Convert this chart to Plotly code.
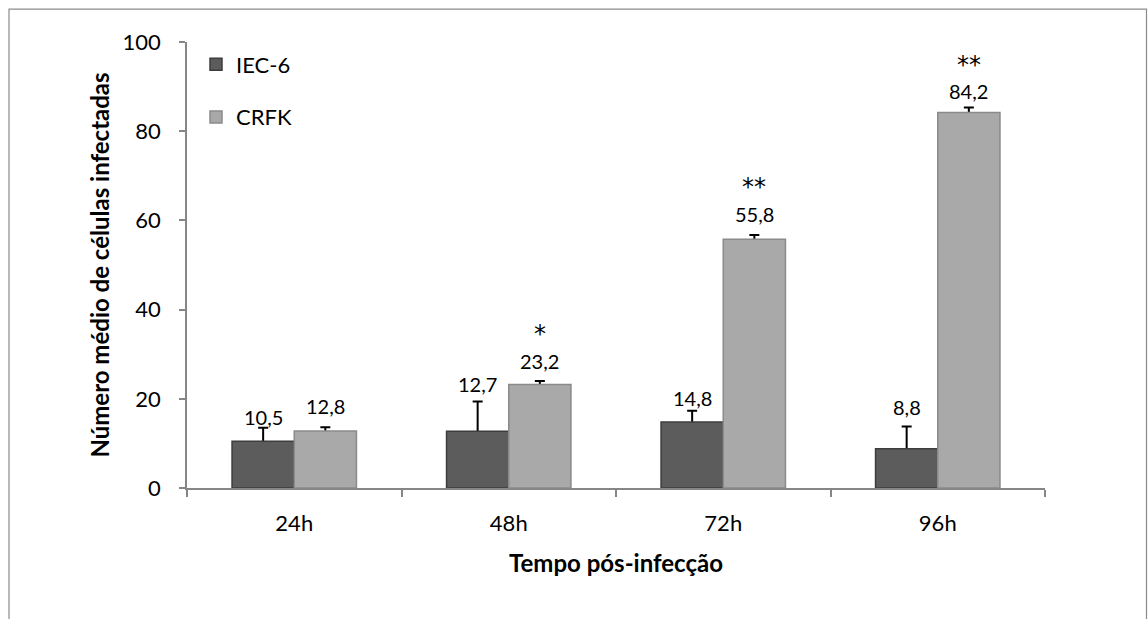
import plotly.graph_objects as go

categories = ["24h", "48h", "72h", "96h"]
iec6_values = [10.5, 12.7, 14.8, 8.8]
crfk_values = [12.8, 23.2, 55.8, 84.2]
iec6_errors = [3.0, 6.7, 2.5, 5.0]
crfk_errors = [0.8, 0.8, 0.9, 1.1]
iec6_labels = ["10,5", "12,7", "14,8", "8,8"]
crfk_labels = ["12,8", "23,2", "55,8", "84,2"]
significance = ["", "*", "**", "**"]

FONT = "Lato"
W, H = 1148, 619
ML, MR, MT, MB = 187, 103, 41.5, 130.5
PW, PH = W - ML - MR, H - MT - MB

fig = go.Figure()

def add_series(name, values, errors, color, line_color, group):
    # error bar drawn underneath the visible bar so only the upper whisker shows
    fig.add_trace(go.Bar(
        name=name, x=categories, y=values, offsetgroup=group,
        marker=dict(color="rgba(0,0,0,0)", line=dict(width=0)),
        error_y=dict(type="data", array=errors, arrayminus=[1.0] * len(errors),
                     symmetric=False, color="black", thickness=2, width=5),
        showlegend=False, hoverinfo="skip",
    ))
    fig.add_trace(go.Bar(
        name=name, x=categories, y=values, offsetgroup=group,
        marker=dict(color=color, line=dict(color=line_color, width=1.5)),
        legendgroup=group,
    ))

add_series("IEC-6", iec6_values, iec6_errors, "#5c5c5c", "#3d3d3d", "a")
add_series("CRFK", crfk_values, crfk_errors, "#a9a9a9", "#8a8a8a", "b")

# label offsets (px above bar top)
iec6_shift = [24, 47, 24, 42]
crfk_shift = [25, 24, 25, 21]
star_shift = [0, 51, 52, 47]
annotations = []
for i, c in enumerate(categories):
    annotations.append(dict(x=c, y=iec6_values[i], text=iec6_labels[i], showarrow=False,
                            xshift=-31, yshift=iec6_shift[i], yanchor="middle", borderpad=0,
                            font=dict(family=FONT, size=20, color="black")))
    annotations.append(dict(x=c, y=crfk_values[i], text=crfk_labels[i], showarrow=False,
                            xshift=31, yshift=crfk_shift[i], yanchor="middle", borderpad=0,
                            font=dict(family=FONT, size=20, color="black")))
    if significance[i]:
        annotations.append(dict(x=c, y=crfk_values[i], text=significance[i], showarrow=False,
                                xshift=31, yshift=star_shift[i], yanchor="middle", borderpad=0,
                                font=dict(family="DejaVu Sans", size=24, color="black")))

def px_x(p):
    return (p - ML) / PW
def px_y(p):
    return (H - MB - p) / PH

shapes = [dict(type="rect", xref="paper", yref="paper",
               x0=px_x(9), x1=px_x(1146.5), y0=px_y(700), y1=px_y(8.5),
               line=dict(color="#8c8c8c", width=1.2), fillcolor="rgba(0,0,0,0)", layer="below")]

fig.update_layout(
    width=W, height=H,
    margin=dict(l=ML, r=MR, t=MT, b=MB, autoexpand=False),
    paper_bgcolor="white", plot_bgcolor="white",
    barmode="group", bargap=0.42, bargroupgap=0,
    font=dict(family=FONT, size=22, color="black"),
    showlegend=True,
    legend=dict(x=px_x(196), y=px_y(43), xanchor="left", yanchor="top",
                traceorder="grouped", tracegroupgap=21,
                font=dict(family=FONT, size=22, color="black"),
                bgcolor="rgba(0,0,0,0)", itemwidth=30),
    annotations=annotations,
    shapes=shapes,
    xaxis=dict(type="category", showline=True, linecolor="#868686", linewidth=1.5,
               ticks="outside", tickson="boundaries", ticklen=7, tickcolor="#868686",
               tickwidth=1.5, showgrid=False, ticklabelstandoff=15,
               tickfont=dict(family=FONT, size=22),
               title=dict(text="<b>Tempo pós-infecção</b>", standoff=20,
                          font=dict(family=FONT, size=24))),
    yaxis=dict(range=[0, 100], dtick=20, showline=True, linecolor="#868686", linewidth=1.5,
               ticks="outside", ticklen=6, tickcolor="#868686", tickwidth=1.5,
               showgrid=False, zeroline=False, ticklabelstandoff=14,
               tickfont=dict(family=FONT, size=22),
               title=dict(text="<b>Número médio de células infectadas</b>", standoff=6,
                          font=dict(family=FONT, size=24))),
)

fig.write_html("out.html")
